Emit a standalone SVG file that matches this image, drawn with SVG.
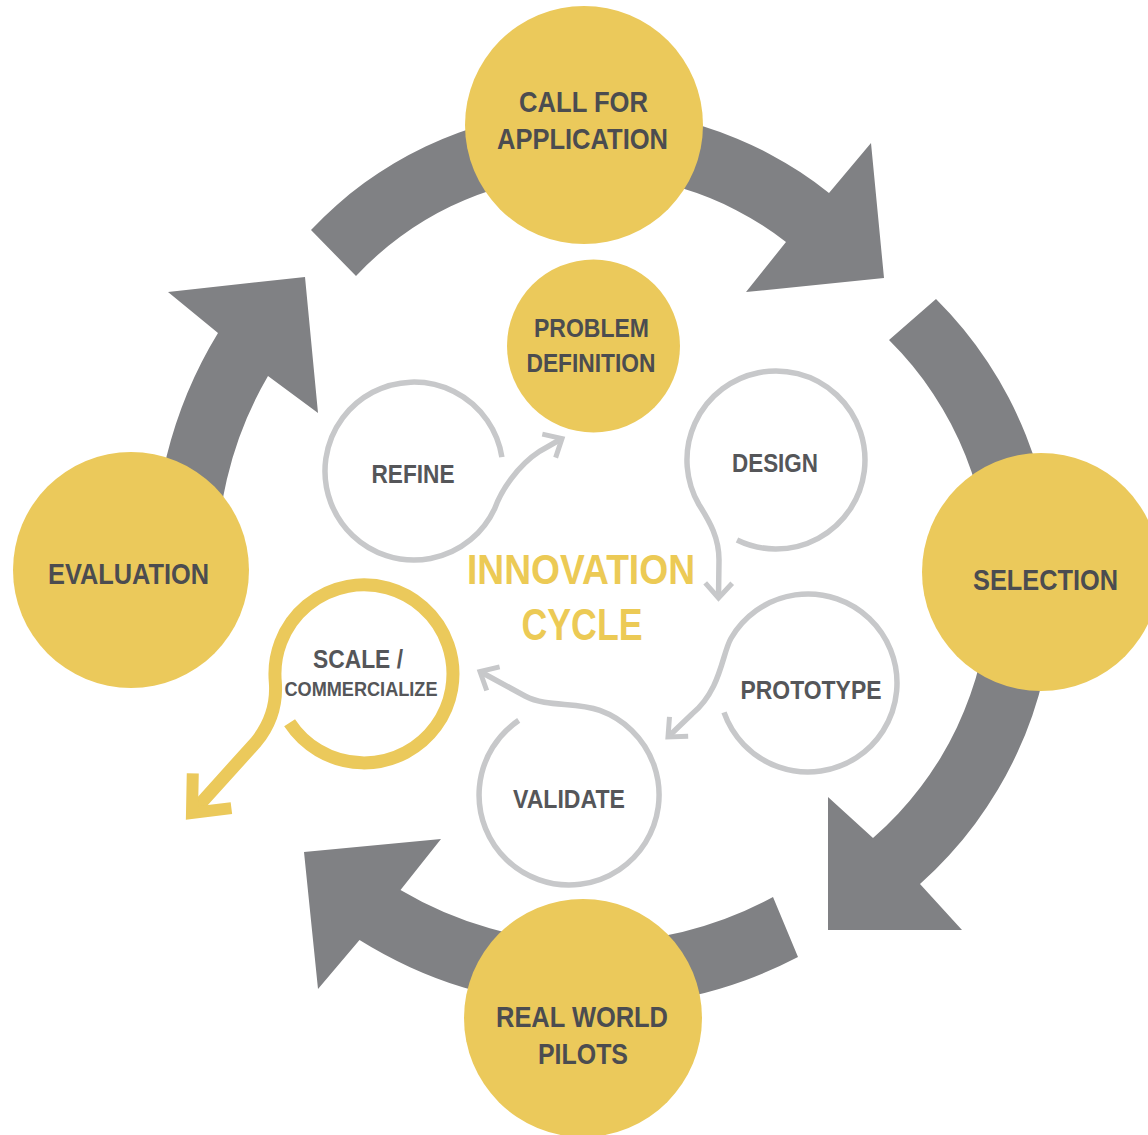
<svg xmlns="http://www.w3.org/2000/svg" width="1148" height="1135" viewBox="0 0 1148 1135">
  <defs>
    <style>
      .band { fill: #808184; }
      .stage { fill: #EBC95B; }
      .stage-label { font-family: "Liberation Sans", Arial, sans-serif; font-weight: bold; font-size: 30px; fill: #4B4C50; text-anchor: middle; }
      .step-ring { fill: none; stroke: #C7C8CA; stroke-width: 5.5; stroke-linecap: butt; }
      .step-label { font-family: "Liberation Sans", Arial, sans-serif; font-weight: bold; font-size: 26.5px; fill: #555659; text-anchor: middle; }
      .scale-ring { fill: none; stroke: #EBC95B; stroke-width: 13; stroke-linecap: butt; }
      .title { font-family: "Liberation Sans", Arial, sans-serif; font-weight: bold; font-size: 43px; fill: #ECCA55; text-anchor: middle; }
    </style>
    <!-- open chevron heads for the inner loop connectors -->
    <marker id="chev-grey" markerUnits="userSpaceOnUse" viewBox="-50 -50 100 100" markerWidth="100" markerHeight="100" refX="0" refY="0" orient="auto">
      <path d="M -15 -13.5 L 0 0 L -15 13.5" fill="none" stroke="#C7C8CA" stroke-width="5" stroke-linejoin="miter"/>
    </marker>
    <marker id="chev-yellow" markerUnits="userSpaceOnUse" viewBox="-60 -60 120 120" markerWidth="120" markerHeight="120" refX="0" refY="0" orient="auto">
      <path d="M -30 -26 L 0 0 L -30 26" fill="none" stroke="#EBC95B" stroke-width="12" stroke-linejoin="miter"/>
    </marker>
  </defs>

  <rect width="1148" height="1135" fill="#FFFFFF"/>

  <!-- outer cycle: four curved block arrows -->
  <g id="connectors">
    <path id="arrow-call-to-selection" class="band" d="M 311 230 A 383 383 0 0 1 829 193 L 871 143 L 884 278 L 746 292 L 786 242 A 320 320 0 0 0 356 276 Z"/>
    <path id="arrow-selection-to-pilots" class="band" d="M 936 299 A 402 402 0 0 1 920 884 L 962 930 L 828 930 L 828 797 L 873 838 A 340 340 0 0 0 889 340 Z"/>
    <path id="arrow-pilots-to-evaluation" class="band" d="M 798 957 A 442 442 0 0 1 359.5 940 L 318 989 L 304 852 L 441 839 L 400.5 890 A 378 378 0 0 0 773 897 Z"/>
    <path id="arrow-evaluation-to-call" class="band" d="M 155 590 A 436 436 0 0 1 218 333 L 168 292 L 305 277 L 318 413 L 268 376 A 373 373 0 0 0 218 590 Z"/>
  </g>

  <!-- outer stages -->
  <g id="node-call-for-application">
    <circle class="stage" cx="584" cy="125" r="119"/>
    <text class="stage-label" x="583.5" y="112" textLength="129" lengthAdjust="spacingAndGlyphs">CALL FOR</text>
    <text class="stage-label" x="582.5" y="149" textLength="171" lengthAdjust="spacingAndGlyphs">APPLICATION</text>
  </g>
  <g id="node-selection">
    <circle class="stage" cx="1041" cy="572" r="119"/>
    <text class="stage-label" x="1045.5" y="590" textLength="145" lengthAdjust="spacingAndGlyphs">SELECTION</text>
  </g>
  <g id="node-real-world-pilots">
    <circle class="stage" cx="583" cy="1018" r="119"/>
    <text class="stage-label" x="582" y="1027" textLength="172" lengthAdjust="spacingAndGlyphs">REAL WORLD</text>
    <text class="stage-label" x="583" y="1064" textLength="90" lengthAdjust="spacingAndGlyphs">PILOTS</text>
  </g>
  <g id="node-evaluation">
    <circle class="stage" cx="131" cy="570" r="118"/>
    <text class="stage-label" x="128.5" y="584" textLength="161" lengthAdjust="spacingAndGlyphs">EVALUATION</text>
  </g>

  <!-- inner innovation loop -->
  <g id="node-problem-definition">
    <circle class="stage" cx="593.5" cy="346" r="86.5"/>
    <text class="step-label" style="fill:#4B4C50" x="591.5" y="337" textLength="115" lengthAdjust="spacingAndGlyphs">PROBLEM</text>
    <text class="step-label" style="fill:#4B4C50" x="591" y="372" textLength="129" lengthAdjust="spacingAndGlyphs">DEFINITION</text>
  </g>
  <g id="node-refine">
    <path class="step-ring" d="M 501.9 457.1 A 89 89 0 1 0 494.7 508.6 C 501 491 517 466 540 451 L 562 438.5" marker-end="url(#chev-grey)"/>
    <text class="step-label" x="413" y="483" textLength="83" lengthAdjust="spacingAndGlyphs">REFINE</text>
  </g>
  <g id="node-design">
    <path class="step-ring" d="M 737 540 A 89 89 0 1 0 698.9 504.5 C 710 522 719 538 719 560 L 718.5 598" marker-end="url(#chev-grey)"/>
    <text class="step-label" x="775" y="472" textLength="86" lengthAdjust="spacingAndGlyphs">DESIGN</text>
  </g>
  <g id="node-prototype">
    <path class="step-ring" d="M 724 712.4 A 89 89 0 1 0 730.9 638.5 C 722 654 721 690 692 714 L 668 737" marker-end="url(#chev-grey)"/>
    <text class="step-label" x="811" y="699" textLength="141" lengthAdjust="spacingAndGlyphs">PROTOTYPE</text>
  </g>
  <g id="node-validate">
    <path class="step-ring" d="M 518.7 720.4 A 90 90 0 1 0 599.8 710.4 C 575 701 548 708 525 696 L 480 671.5" marker-end="url(#chev-grey)"/>
    <text class="step-label" x="569" y="808" textLength="112" lengthAdjust="spacingAndGlyphs">VALIDATE</text>
  </g>
  <g id="node-scale-commercialize">
    <path class="scale-ring" d="M 289.6 722.8 A 89 89 0 1 0 275.3 681.8 C 276.5 697 274 720 256 742 L 192 813" marker-end="url(#chev-yellow)"/>
    <text class="step-label" style="font-size:25px" x="358" y="668" textLength="90" lengthAdjust="spacingAndGlyphs">SCALE /</text>
    <text class="step-label" style="font-size:20px" x="361" y="696" textLength="153" lengthAdjust="spacingAndGlyphs">COMMERCIALIZE</text>
  </g>

  <g id="title-innovation-cycle">
    <text class="title" x="581" y="584" textLength="228" lengthAdjust="spacingAndGlyphs">INNOVATION</text>
    <text class="title" style="font-size:44px" x="582" y="640" textLength="121" lengthAdjust="spacingAndGlyphs">CYCLE</text>
  </g>
</svg>
